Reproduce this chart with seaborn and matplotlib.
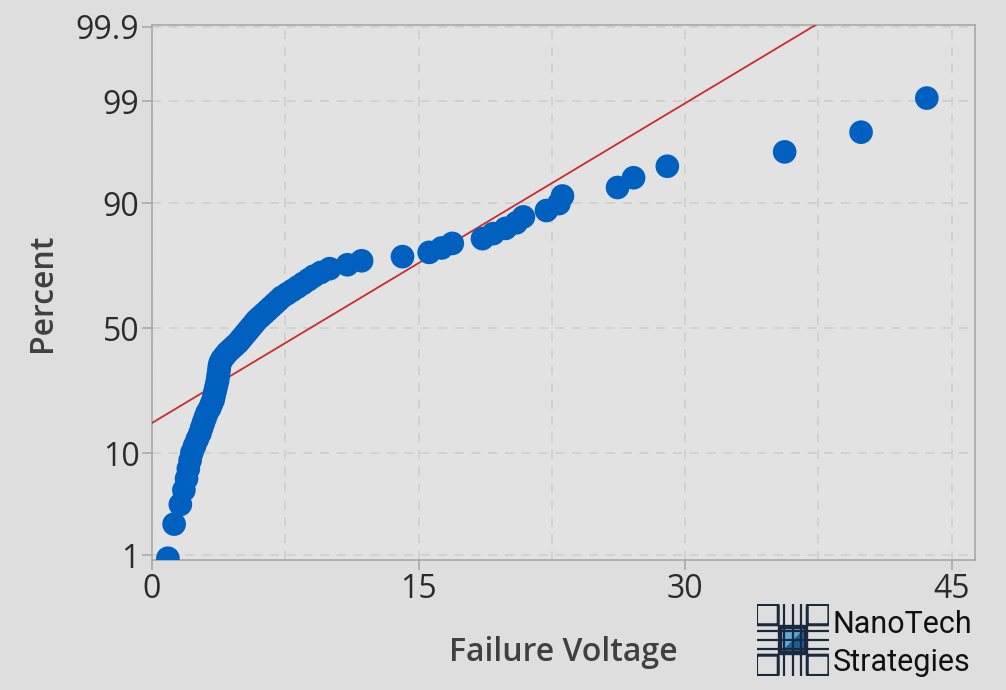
import matplotlib
matplotlib.use("Agg")
import matplotlib.pyplot as plt
import matplotlib.patches as mpatches
import numpy as np
import pandas as pd
import seaborn as sns
from statistics import NormalDist

# failure voltages (sorted)
voltage = [0.9, 1.25, 1.6, 1.8, 1.95, 2.05, 2.15, 2.25, 2.4, 2.55,
           2.7, 2.8, 2.9, 3.0, 3.1, 3.25, 3.35, 3.45, 3.5, 3.55,
           3.6, 3.65, 3.7, 3.72, 3.75, 3.78, 3.8, 3.85, 3.95, 4.1,
           4.25, 4.45, 4.65, 4.85, 5.0, 5.15, 5.3, 5.45, 5.6, 5.75,
           5.9, 6.1, 6.3, 6.5, 6.7, 6.9, 7.1, 7.3, 7.6, 7.9,
           8.2, 8.5, 8.8, 9.1, 9.5, 10.0, 11.0, 11.8,
           14.1, 15.6, 16.3, 16.9, 18.6, 19.2, 19.9, 20.5, 20.9,
           22.2, 22.9, 23.1, 26.2, 27.1, 29.0, 35.6, 39.9, 43.6]

# fitted normal line
fit_mean = 8.9
fit_sd = 9.15

y_tick_pct = [1, 10, 50, 90, 99, 99.9]
y_tick_labels = ["1", "10", "50", "90", "99", "99.9"]
x_ticks = [0, 15, 30, 45]

nd = NormalDist()
n = len(voltage)
rank = np.arange(1, n + 1)
median_rank = (rank - 0.3) / (n + 0.4)
df = pd.DataFrame({"voltage": sorted(voltage),
                   "z": [nd.inv_cdf(p) for p in median_rank]})

line_x = np.array([-1.0, 50.0])
line_df = pd.DataFrame({"voltage": line_x, "z": (line_x - fit_mean) / fit_sd})

sns.set_theme(style="white")
plt.rcParams["font.family"] = ["Open Sans", "DejaVu Sans"]

bg = "#dedede"
fig = plt.figure(figsize=(10.06, 6.90), dpi=100, facecolor=bg)
ax = fig.add_axes([0.151, 0.188, 0.818, 0.776])
ax.set_facecolor("#e2e2e2")

sns.lineplot(data=line_df, x="voltage", y="z", ax=ax, color="#cc2b2b",
             linewidth=1.3, zorder=3)
sns.scatterplot(data=df, x="voltage", y="z", ax=ax, color="#0060bf",
                s=290, edgecolor="none", zorder=4, clip_on=True)

ax.set_xlim(0, 46.3)
ax.set_ylim(-2.38, 3.11)
ax.set_xticks(x_ticks)
ax.set_xticks([7.5, 22.5, 37.5], minor=True)
ax.set_yticks([nd.inv_cdf(p / 100) for p in y_tick_pct])
ax.set_yticklabels(y_tick_labels)

grid_kw = dict(color="#cdcdcd", linewidth=1.1, linestyle=(0, (6, 5)))
ax.grid(True, axis="x", which="both", **grid_kw)
ax.grid(True, axis="y", which="major", **grid_kw)
ax.set_axisbelow(True)

for sp in ax.spines.values():
    sp.set_color("#a9a9a9")
    sp.set_linewidth(1.2)

ax.tick_params(axis="both", which="major", direction="out", length=7,
               width=1.2, color="#a9a9a9", labelsize=23, labelcolor="#2b2b2b",
               pad=2)
ax.tick_params(axis="x", which="minor", length=0)
ax.tick_params(left=True, bottom=True)

ax.set_xlabel("Failure Voltage", fontsize=23, color="#404040",
              fontweight="semibold", labelpad=22)
ax.set_ylabel("Percent", fontsize=23, color="#404040",
              fontweight="semibold", labelpad=12)

# logo in the lower right corner
lax = fig.add_axes([0.752, 0.02, 0.072, 0.105])
lax.set_xlim(0, 1)
lax.set_ylim(0, 1)
lax.axis("off")
navy = "#1a2a3c"
for cx, cy in [(0.15, 0.85), (0.85, 0.85), (0.15, 0.15), (0.85, 0.15)]:
    lax.add_patch(mpatches.FancyBboxPatch((cx - 0.13, cy - 0.12), 0.26, 0.24,
                                          boxstyle="round,pad=0.02",
                                          fc="none", ec=navy, lw=2.2))
for v in [0.38, 0.5, 0.62]:
    lax.plot([v, v], [0.0, 1.0], color=navy, lw=1.6)
    lax.plot([0.0, 1.0], [v, v], color=navy, lw=1.6)
lax.add_patch(mpatches.Rectangle((0.3, 0.3), 0.4, 0.4, fc=navy, ec=navy, lw=1))
lax.add_patch(mpatches.Rectangle((0.35, 0.35), 0.3, 0.3, fc="#5fa8d8", ec="none"))
lax.add_patch(mpatches.Polygon([(0.35, 0.35), (0.65, 0.35), (0.65, 0.65)],
                               closed=True, fc="#1d5f9a", ec="none"))

fig.text(0.828, 0.095, "NanoTech", fontsize=22, color="#111111",
         family=["Roboto", "DejaVu Sans"], va="center", ha="left")
fig.text(0.828, 0.04, "Strategies", fontsize=22, color="#111111",
         family=["Roboto", "DejaVu Sans"], va="center", ha="left")

fig.savefig("out.png", dpi=100, facecolor=bg)
